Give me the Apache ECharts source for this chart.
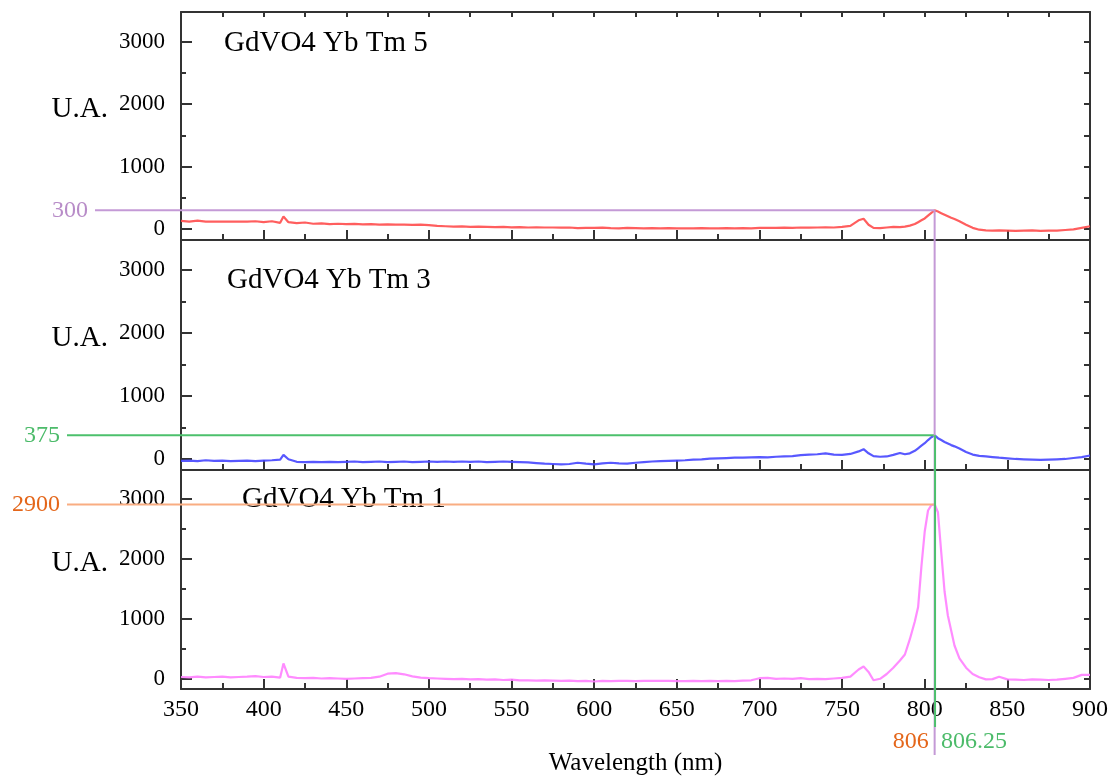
<!DOCTYPE html>
<html>
<head>
<meta charset="utf-8">
<script src="https://cdn.jsdelivr.net/npm/echarts@6/dist/echarts.min.js"></script>
<style>
  html, body { margin: 0; padding: 0; background: #fff; }
  #chart { width: 1113px; height: 777px; }
</style>
</head>
<body>
<div id="chart"></div>
<script>
// Emission spectra of GdVO4:Yb,Tm samples (intensity in arbitrary units)
const wavelengths = [350,355,360,365,370,375,380,385,390,395,400,405,410,412,415,420,425,430,435,440,445,450,455,460,465,470,475,480,485,490,495,500,505,510,515,520,525,530,535,540,545,550,555,560,565,570,575,580,585,590,595,600,605,610,615,620,625,630,635,640,645,650,655,660,665,670,675,680,685,690,695,700,705,710,715,720,725,730,735,740,745,750,
  755,760,763,766,769,773,777,781,785,788,791,794,796,798,800,802,804,806,808,810,812,814,816,818,821,825,829,833,837,841,845,850,
  855,860,865,870,875,880,885,890,895,900];

const tm5 = [130,120,135,120,118,120,118,120,118,125,110,125,100,200,110,95,105,85,90,80,85,80,82,75,78,72,75,70,72,68,70,62,50,45,40,42,35,40,35,30,35,28,30,25,28,25,25,22,25,15,20,18,22,15,12,18,15,10,15,12,15,10,12,10,15,10,12,15,10,15,12,20,18,20,22,18,25,22,25,28,25,35,
  50,140,165,70,20,15,25,35,30,40,55,80,110,140,170,215,260,300,280,255,230,205,180,160,125,70,20,-10,-20,-25,-20,-25,
  -30,-25,-20,-28,-25,-25,-15,-5,20,45];

const tm3 = [-30,-25,-35,-20,-30,-25,-35,-30,-25,-35,-25,-20,-10,65,-5,-45,-50,-45,-50,-45,-50,-45,-40,-50,-45,-40,-50,-45,-40,-50,-45,-40,-45,-40,-45,-40,-45,-40,-50,-45,-40,-45,-50,-55,-65,-75,-80,-85,-80,-60,-75,-85,-70,-60,-70,-75,-60,-50,-40,-35,-30,-25,-20,-10,-5,5,10,15,20,20,25,30,25,35,40,45,60,70,75,90,70,65,
  80,120,155,90,45,35,40,65,95,75,90,130,170,210,250,300,345,375,330,300,270,245,220,200,165,110,70,50,40,30,20,10,
  0,-5,-10,-15,-10,-5,0,15,30,55];

const tm1 = [25,20,30,20,25,30,20,25,30,40,25,30,15,250,30,10,5,10,0,5,0,-5,0,5,10,30,80,90,70,35,15,5,0,-5,-10,-5,-15,-10,-20,-15,-25,-20,-30,-30,-35,-30,-35,-40,-35,-45,-40,-50,-40,-45,-40,-40,-45,-40,-40,-40,-40,-45,-45,-40,-45,-40,-45,-40,-45,-35,-30,5,10,-5,0,-5,5,-10,-5,-10,0,10,
  30,150,200,110,-30,-5,75,180,300,400,655,950,1190,1870,2450,2800,2890,2900,2770,2100,1450,1050,800,550,335,180,75,20,-15,-10,30,-15,
  -20,-25,-15,-20,-25,-20,-5,10,60,60];

const sampleNames = ['GdVO4 Yb Tm 5', 'GdVO4 Yb Tm 3', 'GdVO4 Yb Tm 1'];
const seriesColors = ['#ff4d4d', '#4646ff', '#ff80ff'];

// Y tick labels and the half-step minor ticks
const yMajorTicks = [0, 1000, 2000, 3000];
const yMinorTicks = [500, 1500, 2500];
const yAllTicks = [0, 500, 1000, 1500, 2000, 2500, 3000];

// Peak read-outs: level per panel and the emission wavelengths
const peakLevels = [300, 375, 2900];
const peakLevelLabels = ['300', '375', '2900'];
const peakWavelengthA = 806;
const peakWavelengthB = 806.25;
const peakWavelengthLabels = ['806', '806.25'];

const Y_MIN = -175, Y_MAX = 3475;
const FONT = '"Liberation Serif", "DejaVu Serif", serif';
const AXIS_COLOR = '#333';

const gridTops = [12, 240, 470];
const gridHeights = [228, 230, 229];

const grids = [], xAxes = [], yAxes = [], series = [], titles = [];
const series3 = [tm5, tm3, tm1];

for (let g = 0; g < 3; g++) {
  grids.push({ left: 181, right: 23, top: gridTops[g], height: gridHeights[g], containLabel: false });
  const last = g === 2;
  // bottom x axis
  xAxes.push({
    type: 'value', gridIndex: g, position: 'bottom', min: 350, max: 900, interval: 50,
    axisLine: { show: true, onZero: false, lineStyle: { color: AXIS_COLOR, width: 2 } },
    axisTick: { show: true, inside: true, length: 10, lineStyle: { color: AXIS_COLOR, width: 2 } },
    minorTick: { show: true, splitNumber: 2, length: 6, lineStyle: { color: AXIS_COLOR, width: 2 } },
    axisLabel: { show: last, color: '#000', fontFamily: FONT, fontSize: 24, margin: 9 },
    splitLine: { show: false },
    name: last ? 'Wavelength (nm)' : '', nameLocation: 'middle', nameGap: 62,
    nameTextStyle: { color: '#000', fontFamily: FONT, fontSize: 25 }
  });
  // top x axis (frame)
  xAxes.push({
    type: 'value', gridIndex: g, position: 'top', min: 350, max: 900, interval: 25,
    axisLine: { show: true, onZero: false, lineStyle: { color: AXIS_COLOR, width: 2 } },
    axisTick: { show: g === 0, inside: true, length: 5, lineStyle: { color: AXIS_COLOR, width: 2 } },
    axisLabel: { show: false }, splitLine: { show: false }
  });
  // left y axis with labels and major ticks
  yAxes.push({
    type: 'value', gridIndex: g, position: 'left', min: Y_MIN, max: Y_MAX,
    axisLine: { show: true, onZero: false, lineStyle: { color: AXIS_COLOR, width: 2 } },
    axisTick: { show: true, inside: true, length: 11, customValues: yMajorTicks, lineStyle: { color: AXIS_COLOR, width: 2 } },
    axisLabel: {
      show: true, customValues: yMajorTicks, formatter: v => String(v),
      color: '#000', fontFamily: FONT, fontSize: 23, margin: 16
    },
    splitLine: { show: false }
  });
  // left minor ticks
  yAxes.push({
    type: 'value', gridIndex: g, position: 'left', min: Y_MIN, max: Y_MAX,
    axisLine: { show: false },
    axisTick: { show: true, inside: true, length: 5, customValues: yMinorTicks, lineStyle: { color: AXIS_COLOR, width: 2 } },
    axisLabel: { show: false }, splitLine: { show: false }
  });
  // right y axis (frame)
  yAxes.push({
    type: 'value', gridIndex: g, position: 'right', min: Y_MIN, max: Y_MAX,
    axisLine: { show: true, onZero: false, lineStyle: { color: AXIS_COLOR, width: 2 } },
    axisTick: { show: true, inside: true, length: 6, customValues: yAllTicks, lineStyle: { color: AXIS_COLOR, width: 2 } },
    axisLabel: { show: false }, splitLine: { show: false }
  });

  series.push({
    type: 'line', name: sampleNames[g], xAxisIndex: g * 2, yAxisIndex: g * 3,
    data: wavelengths.map((w, i) => [w, series3[g][i]]),
    showSymbol: false, symbol: 'none', smooth: false, z: 3,
    lineStyle: { color: seriesColors[g], width: 2.2, opacity: 0.9 }
  });
}

titles.push(
  { text: sampleNames[0], left: 219, top: 24 },
  { text: sampleNames[1], left: 222, top: 261 },
  { text: sampleNames[2], left: 237, top: 480 }
);
titles.forEach(t => { t.textStyle = { fontFamily: FONT, fontSize: 29, fontWeight: 'normal', color: '#000' }; });

const chart = echarts.init(document.getElementById('chart'), null, { renderer: 'canvas' });
chart.setOption({
  animation: false,
  backgroundColor: '#fff',
  title: titles,
  grid: grids,
  xAxis: xAxes,
  yAxis: yAxes,
  series: series
});

// Read-out lines and labels, placed through the panel scales
const px = (g, x, y) => chart.convertToPixel({ xAxisIndex: g * 2, yAxisIndex: g * 3 }, [x, y]);
const bottomY = px(2, 350, Y_MIN)[1];
const labelFont = '24px ' + FONT;

const purple = '#c49ad6', purpleText = '#b88cc8';
const green = '#4cc06c', greenText = '#4cbb6a';
const orange = '#f9ad82', orangeText = '#e4661a';

const p0 = px(0, peakWavelengthA, peakLevels[0]);
const p1 = px(1, peakWavelengthB, peakLevels[1]);
const p2 = px(2, peakWavelengthA, peakLevels[2]);
const graphics = [];
const line = (x1, y1, x2, y2, color, z) => graphics.push({
  type: 'line', shape: { x1, y1, x2, y2 }, style: { stroke: color, lineWidth: 2 }, z: z || 10
});
const text = (x, y, str, color, align) => graphics.push({
  type: 'text', x, y, style: { text: str, fill: color, font: labelFont, textAlign: align, textVerticalAlign: 'middle' }, z: 12
});

// Tm 5 read-out
line(95, p0[1], p0[0], p0[1], purple);
line(p0[0], p0[1], p0[0], bottomY + 66, purple, 11);
text(88, p0[1], peakLevelLabels[0], purpleText, 'right');
// Tm 3 read-out
line(67, p1[1], p1[0], p1[1], green);
line(p1[0], p1[1], p1[0], bottomY + 38, green, 12);
text(60, p1[1], peakLevelLabels[1], greenText, 'right');
// Tm 1 read-out
line(67, p2[1], p2[0], p2[1], orange);
text(60, p2[1], peakLevelLabels[2], orangeText, 'right');
// wavelength read-outs
text(p0[0] - 6, bottomY + 53, peakWavelengthLabels[0], orangeText, 'right');
text(p1[0] + 6, bottomY + 53, peakWavelengthLabels[1], greenText, 'left');

// axis caption of each panel
for (let g = 0; g < 3; g++) {
  const p = px(g, 350, 2000);
  graphics.push({
    type: 'text', x: 108, y: p[1] + 5,
    style: { text: 'U.A.', fill: '#000', font: '29px ' + FONT, textAlign: 'right', textVerticalAlign: 'middle' }, z: 12
  });
}

chart.setOption({ graphic: graphics });
</script>
</body>
</html>
